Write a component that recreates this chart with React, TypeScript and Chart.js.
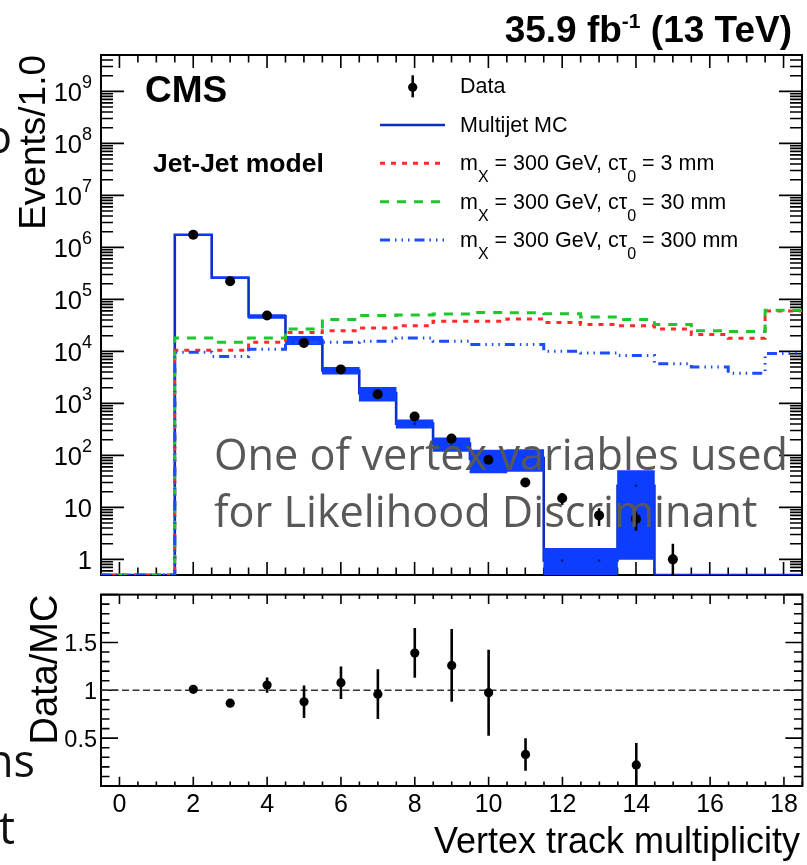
import { useEffect, useRef } from 'react';
import { Chart, registerables } from 'chart.js';

Chart.register(...registerables);

// ---- histogram contents: unit-width bins centred on 0..18 ----
const BIN_CENTERS = [0, 1, 2, 3, 4, 5, 6, 7, 8, 9, 10, 11, 12, 13, 14, 15, 16, 17, 18];
const DATA_COUNTS = [0, 0, 1750000, 222000, 49000, 14500, 4500, 1500, 560, 210, 82, 30, 15, 7, 6, 1, 0, 0, 0];
const DATA_ERRORS = [0, 0, 1320, 470, 220, 120, 67, 39, 24, 14.5, 9, 5.5, 3.9, 2.6, 2.45, 1, 0, 0, 0];
const MC_COUNTS = [0, 0, 1750000, 260000, 47000, 16500, 4270, 1570, 407, 168, 86, 89, 0.95, 0.95, 26, 0, 0, 0, 0];
const MC_ERRORS = [0, 0, 30000, 10000, 4000, 3000, 640, 470, 75, 49, 40, 40, 0.68, 0.68, 25, 0, 0, 0, 0];
const SIG_CT3 = [0, 0, 10500, 10500, 15000, 23000, 25000, 28000, 31000, 38000, 38000, 42000, 36000, 33000, 31000, 27000, 21000, 17800, 60000];
const SIG_CT30 = [0, 0, 18000, 15000, 18000, 27000, 41000, 49000, 50000, 52000, 56000, 55000, 53000, 46000, 41000, 33000, 25000, 24000, 62000];
const SIG_CT300 = [0, 0, 9600, 8000, 11000, 15000, 15000, 15600, 18000, 15600, 13500, 13500, 10000, 9300, 8300, 5800, 5000, 3800, 9100];

// ---- Data/MC ratio ----
const RATIO_BINS = [2, 3, 4, 5, 6, 7, 8, 9, 10, 11, 14];
const RATIO_VALUES = [1.01, 0.865, 1.055, 0.88, 1.08, 0.96, 1.39, 1.26, 0.975, 0.33, 0.22];
const RATIO_ERRORS = [0.012, 0.012, 0.08, 0.17, 0.17, 0.26, 0.26, 0.38, 0.45, 0.17, 0.23];

// ---- axes ----
const X_MIN = -0.5;
const X_MAX = 18.5;
const Y_MIN = 0.5;
const Y_MAX = 5e9;
const R_MIN = 0;
const R_MAX = 2;
const X_LABELS = [0, 2, 4, 6, 8, 10, 12, 14, 16, 18];
const DECADES = [0, 1, 2, 3, 4, 5, 6, 7, 8, 9];
const RATIO_LABELS = [0.5, 1, 1.5];

const SIGNAL_CTAU = [3, 30, 300];
const LEGEND_TEXT = ['Data', 'Multijet MC'];

const FONT = '"Liberation Sans", Arial, Helvetica, sans-serif';
const SLIDE_FONT = '"Open Sans", "DejaVu Sans", sans-serif';

const COL_MC_LINE = '#0b2fc6';
const COL_MC_BAND = '#0d3dff';
const COL_RED = '#ff2b2b';
const COL_GREEN = '#1ec630';
const COL_BLUE = '#1d4ef5';
const DASH_RED = [5, 6];
const DASH_GREEN = [9, 8];
const DASH_BLUE = [10, 5, 1.5, 5, 1.5, 5, 1.5, 5];

type Seg = { t: string; size: number; dy?: number; bold?: boolean; font?: string };

function segFont(s: Seg) {
  return `${s.bold ? 'bold ' : ''}${s.size}px ${s.font || FONT}`;
}

function drawRich(ctx: CanvasRenderingContext2D, segs: Seg[], x: number, y: number, align: 'left' | 'right' | 'center') {
  let w = 0;
  for (const s of segs) {
    ctx.font = segFont(s);
    w += ctx.measureText(s.t).width;
  }
  let cx = align === 'left' ? x : align === 'right' ? x - w : x - w / 2;
  ctx.textAlign = 'left';
  ctx.textBaseline = 'alphabetic';
  for (const s of segs) {
    ctx.font = segFont(s);
    ctx.fillText(s.t, cx, y + (s.dy || 0));
    cx += ctx.measureText(s.t).width;
  }
}

function stepPoints(values: number[]) {
  const pts: { x: number; y: number }[] = [];
  BIN_CENTERS.forEach((c, i) => {
    const v = values[i] > 0 ? values[i] : Y_MIN;
    pts.push({ x: c - 0.5, y: v }, { x: c + 0.5, y: v });
  });
  return pts;
}

function errorBarPoints(xs: number[], vals: number[], errs: number[], floor: number) {
  const pts: { x: number; y: number | null }[] = [];
  xs.forEach((x, i) => {
    if (!(vals[i] > 0)) return;
    pts.push({ x, y: Math.max(vals[i] - errs[i], floor) }, { x, y: vals[i] + errs[i] }, { x, y: null });
  });
  return pts;
}

type Tick = { v: number; len: number };

// frame with inward ticks on all four sides
function drawFrame(ctx: CanvasRenderingContext2D, chart: any, xTicks: Tick[], yTicks: Tick[]) {
  const a = chart.chartArea;
  const xs = chart.scales.x;
  const ys = chart.scales.y;
  ctx.save();
  ctx.strokeStyle = '#000';
  ctx.lineWidth = 1.6;
  ctx.beginPath();
  for (const t of xTicks) {
    const px = xs.getPixelForValue(t.v);
    ctx.moveTo(px, a.bottom);
    ctx.lineTo(px, a.bottom - t.len);
    ctx.moveTo(px, a.top);
    ctx.lineTo(px, a.top + t.len);
  }
  for (const t of yTicks) {
    const py = ys.getPixelForValue(t.v);
    ctx.moveTo(a.left, py);
    ctx.lineTo(a.left + t.len, py);
    ctx.moveTo(a.right, py);
    ctx.lineTo(a.right - t.len, py);
  }
  ctx.stroke();
  ctx.lineWidth = 2;
  ctx.strokeRect(a.left, a.top, a.right - a.left, a.bottom - a.top);
  ctx.restore();
}

function xTickList(major: number, minor: number): Tick[] {
  const list: Tick[] = [];
  for (let v = X_MIN; v <= X_MAX + 1e-9; v += 0.5) {
    const isMajor = Math.abs(v / 2 - Math.round(v / 2)) < 1e-9;
    list.push({ v, len: isMajor ? major : minor });
  }
  return list;
}

function logTickList(): Tick[] {
  const list: Tick[] = [];
  for (let n = -1; n <= 9; n++) {
    for (let k = 1; k <= 9; k++) {
      const v = k * Math.pow(10, n);
      if (v < Y_MIN * 0.999 || v > Y_MAX * 1.001) continue;
      list.push({ v, len: k === 1 ? 23 : 12 });
    }
  }
  return list;
}

function ratioTickList(): Tick[] {
  const list: Tick[] = [];
  for (let i = 0; i <= 20; i++) {
    const v = i / 10;
    list.push({ v, len: i % 5 === 0 ? 17 : 8.5 });
  }
  return list;
}

function legendLineSymbol(ctx: CanvasRenderingContext2D, y: number, color: string, dash: number[], width: number) {
  ctx.save();
  ctx.strokeStyle = color;
  ctx.lineWidth = width;
  ctx.setLineDash(dash);
  ctx.beginPath();
  ctx.moveTo(380, y);
  ctx.lineTo(445, y);
  ctx.stroke();
  ctx.restore();
}

const mainDecor = {
  id: 'mainDecor',
  beforeDatasetsDraw(chart: any) {
    drawFrame(chart.ctx, chart, xTickList(13, 7.5), logTickList());
  },
  afterDraw(chart: any) {
    const ctx: CanvasRenderingContext2D = chart.ctx;
    const a = chart.chartArea;
    const ys = chart.scales.y;

    ctx.save();
    ctx.fillStyle = '#000';
    ctx.strokeStyle = '#000';
    // y tick labels
    for (const n of DECADES) {
      const py = ys.getPixelForValue(Math.pow(10, n));
      const segs: Seg[] = n === 0 ? [{ t: '1', size: 25.5 }]
        : n === 1 ? [{ t: '10', size: 25.5 }]
        : [{ t: '10', size: 25.5 }, { t: String(n), size: 18, dy: -12.5 }];
      drawRich(ctx, segs, a.left - 9, py + 9.5, 'right');
    }
    // y axis title
    ctx.save();
    ctx.translate(45, a.top);
    ctx.rotate(-Math.PI / 2);
    drawRich(ctx, [{ t: 'Events/1.0', size: 37 }], 0, 0, 'right');
    ctx.restore();

    // header texts
    drawRich(ctx, [
      { t: '35.9 fb', size: 37, bold: true },
      { t: '-1', size: 21, bold: true, dy: -14 },
      { t: ' (13 TeV)', size: 37, bold: true },
    ], 792, 42, 'right');
    drawRich(ctx, [{ t: 'CMS', size: 37, bold: true }], 145, 101.7, 'left');
    drawRich(ctx, [{ t: 'Jet-Jet model', size: 26.5, bold: true }], 153, 171.7, 'left');

    // legend
    const rowBase = [93.3, 131.7, 170.3, 208.7, 247];
    ctx.beginPath();
    ctx.arc(412.7, rowBase[0] - 6, 4.6, 0, Math.PI * 2);
    ctx.fill();
    ctx.lineWidth = 2.5;
    ctx.beginPath();
    ctx.moveTo(412.7, rowBase[0] - 18);
    ctx.lineTo(412.7, rowBase[0] + 4);
    ctx.stroke();
    legendLineSymbol(ctx, rowBase[1] - 6.7, COL_MC_LINE, [], 2.6);
    legendLineSymbol(ctx, rowBase[2] - 7, COL_RED, DASH_RED, 3);
    legendLineSymbol(ctx, rowBase[3] - 7, COL_GREEN, DASH_GREEN, 3);
    legendLineSymbol(ctx, rowBase[4] - 7, COL_BLUE, DASH_BLUE, 3);
    drawRich(ctx, [{ t: LEGEND_TEXT[0], size: 21.5 }], 460, rowBase[0], 'left');
    drawRich(ctx, [{ t: LEGEND_TEXT[1], size: 21.5 }], 460, rowBase[1], 'left');
    SIGNAL_CTAU.forEach((ct, i) => {
      drawRich(ctx, [
        { t: 'm', size: 21.5 },
        { t: 'X', size: 16, dy: 12 },
        { t: ' = 300 GeV, c', size: 21.5 },
        { t: 'τ', size: 21.5 },
        { t: '0', size: 16, dy: 12 },
        { t: ` = ${ct} mm`, size: 21.5 },
      ], 460, rowBase[2 + i], 'left');
    });

    // slide annotation over the plot
    const line1 = 'One of vertex variables used';
    const line2 = 'for Likelihood Discriminant';
    ctx.font = `100px ${SLIDE_FONT}`;
    const size = (100 * 574) / ctx.measureText(line1).width;
    ctx.fillStyle = '#585858';
    drawRich(ctx, [{ t: line1, size, font: SLIDE_FONT }], 214, 470, 'left');
    drawRich(ctx, [{ t: line2, size, font: SLIDE_FONT }], 214, 527, 'left');

    // fragment of slide text at the left border
    ctx.fillStyle = '#111';
    drawRich(ctx, [{ t: 'o', size: 45, font: SLIDE_FONT }], -15, 152.5, 'left');
    ctx.restore();
  },
};

const ratioDecor = {
  id: 'ratioDecor',
  beforeDatasetsDraw(chart: any) {
    drawFrame(chart.ctx, chart, xTickList(9.3, 4.5), ratioTickList());
  },
  afterDraw(chart: any) {
    const ctx: CanvasRenderingContext2D = chart.ctx;
    const a = chart.chartArea;
    const xs = chart.scales.x;
    const ys = chart.scales.y;
    ctx.save();
    ctx.fillStyle = '#000';
    for (const v of X_LABELS) {
      drawRich(ctx, [{ t: String(v), size: 25 }], xs.getPixelForValue(v), a.bottom + 25.5, 'center');
    }
    for (const v of RATIO_LABELS) {
      drawRich(ctx, [{ t: String(v), size: 23.5 }], a.left - 4, ys.getPixelForValue(v) + 8.5, 'right');
    }
    drawRich(ctx, [{ t: 'Vertex track multiplicity', size: 36 }], 800, a.bottom + 67, 'right');
    ctx.save();
    ctx.translate(57, a.top);
    ctx.rotate(-Math.PI / 2);
    drawRich(ctx, [{ t: 'Data/MC', size: 38 }], 0, 0, 'right');
    ctx.restore();
    // fragments of slide text at the left border
    ctx.fillStyle = '#111';
    drawRich(ctx, [{ t: 'ns', size: 45, font: SLIDE_FONT }], -14, a.top + 182, 'left');
    drawRich(ctx, [{ t: 't', size: 45, font: SLIDE_FONT }], -1, a.top + 249, 'left');
    ctx.restore();
  },
};

function mainConfig(): any {
  const dataBins = BIN_CENTERS.filter((_, i) => DATA_COUNTS[i] > 0);
  const mcBins = BIN_CENTERS.filter((_, i) => MC_COUNTS[i] > 0);
  return {
    type: 'line',
    data: {
      datasets: [
        {
          type: 'line', order: 1, data: dataBins.map((c) => ({ x: c, y: DATA_COUNTS[c] })),
          showLine: false, pointRadius: 5, pointBackgroundColor: '#000', pointBorderWidth: 0,
        },
        {
          type: 'line', order: 2, data: errorBarPoints(BIN_CENTERS, DATA_COUNTS, DATA_ERRORS, Y_MIN * 0.3),
          borderColor: '#000', borderWidth: 2.5, pointRadius: 0, spanGaps: false,
        },
        {
          type: 'line', order: 3, data: stepPoints(SIG_CT300),
          borderColor: COL_BLUE, borderWidth: 3, borderDash: DASH_BLUE, pointRadius: 0, tension: 0,
        },
        {
          type: 'line', order: 4, data: stepPoints(SIG_CT30),
          borderColor: COL_GREEN, borderWidth: 3, borderDash: DASH_GREEN, pointRadius: 0, tension: 0,
        },
        {
          type: 'line', order: 5, data: stepPoints(SIG_CT3),
          borderColor: COL_RED, borderWidth: 3, borderDash: DASH_RED, pointRadius: 0, tension: 0,
        },
        {
          type: 'line', order: 6, data: mcBins.map((c) => ({ x: c, y: MC_COUNTS[c] })),
          showLine: false, pointRadius: 1.3, pointBackgroundColor: '#0a1a70', pointBorderWidth: 0,
        },
        {
          type: 'bar', order: 7,
          data: mcBins.map((c) => ({ x: c, y: [Math.max(MC_COUNTS[c] - MC_ERRORS[c], Y_MIN * 0.3), MC_COUNTS[c] + MC_ERRORS[c]] })),
          backgroundColor: COL_MC_BAND, borderWidth: 0, barPercentage: 1, categoryPercentage: 1, grouped: false,
        },
        {
          type: 'line', order: 8, data: stepPoints(MC_COUNTS),
          borderColor: COL_MC_LINE, borderWidth: 2.6, pointRadius: 0, tension: 0,
        },
      ],
    },
    options: {
      responsive: false,
      animation: false,
      events: [],
      layout: { padding: { left: 101, right: 2, top: 55, bottom: 15 } },
      scales: {
        x: { type: 'linear', min: X_MIN, max: X_MAX, offset: false, display: false },
        y: { type: 'logarithmic', min: Y_MIN, max: Y_MAX, display: false },
      },
      plugins: { legend: { display: false }, tooltip: { enabled: false } },
    },
    plugins: [mainDecor],
  };
}

function ratioConfig(): any {
  return {
    type: 'line',
    data: {
      datasets: [
        {
          order: 1, data: RATIO_BINS.map((c, i) => ({ x: c, y: RATIO_VALUES[i] })),
          showLine: false, pointRadius: 4.6, pointBackgroundColor: '#000', pointBorderWidth: 0,
        },
        {
          order: 2, data: errorBarPoints(RATIO_BINS, RATIO_VALUES, RATIO_ERRORS, -0.2),
          borderColor: '#000', borderWidth: 2.6, pointRadius: 0, spanGaps: false,
        },
        {
          order: 3, data: [{ x: X_MIN, y: 1 }, { x: X_MAX, y: 1 }],
          borderColor: '#333', borderWidth: 1.4, borderDash: [7, 3.5], pointRadius: 0,
        },
      ],
    },
    options: {
      responsive: false,
      animation: false,
      events: [],
      layout: { padding: { left: 101, right: 2, top: 3, bottom: 79 } },
      scales: {
        x: { type: 'linear', min: X_MIN, max: X_MAX, display: false },
        y: { type: 'linear', min: R_MIN, max: R_MAX, display: false },
      },
      plugins: { legend: { display: false }, tooltip: { enabled: false } },
    },
    plugins: [ratioDecor],
  };
}

export default function App() {
  const topRef = useRef<HTMLCanvasElement>(null);
  const bottomRef = useRef<HTMLCanvasElement>(null);

  useEffect(() => {
    const top = new Chart(topRef.current!, mainConfig());
    const bottom = new Chart(bottomRef.current!, ratioConfig());
    return () => {
      top.destroy();
      bottom.destroy();
    };
  }, []);

  return (
    <div style={{ position: 'absolute', left: 0, top: 0, width: 807, height: 865, background: '#fff', overflow: 'hidden' }}>
      <canvas ref={topRef} width={807} height={590} style={{ position: 'absolute', left: 0, top: 0, width: 807, height: 590 }} />
      <canvas ref={bottomRef} width={807} height={275} style={{ position: 'absolute', left: 0, top: 590, width: 807, height: 275 }} />
    </div>
  );
}
